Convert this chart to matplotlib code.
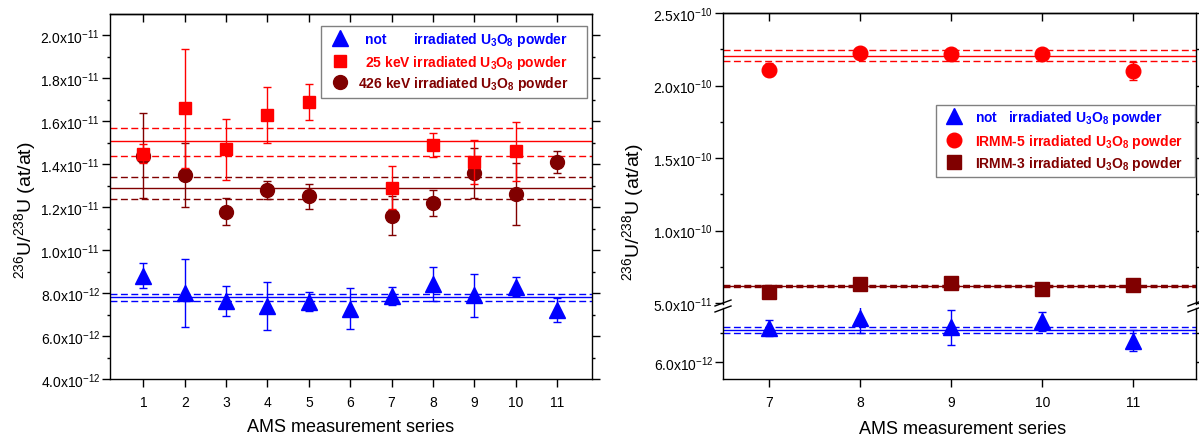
import numpy as np
import matplotlib
matplotlib.use('Agg')
import matplotlib.pyplot as plt
from matplotlib.ticker import FixedLocator, FuncFormatter, NullFormatter
from matplotlib.lines import Line2D
from matplotlib.patches import Rectangle

plt.rcParams['font.family'] = ['Liberation Sans', 'DejaVu Sans']
plt.rcParams['mathtext.fontset'] = 'custom'
plt.rcParams['mathtext.rm'] = 'Liberation Sans'
plt.rcParams['mathtext.it'] = 'Liberation Sans:italic'
plt.rcParams['mathtext.bf'] = 'Liberation Sans:bold'

BLUE = '#0000FF'
RED = '#FF0000'
WINE = '#800000'

# left panel: measurement series 1-11
series_not = [1, 2, 3, 4, 5, 6, 7, 8, 9, 10, 11]
ratio_not = np.array([8.8, 8.0, 7.65, 7.42, 7.6, 7.28, 7.85, 8.42, 7.9, 8.3, 7.2]) * 1e-12
err_not = np.array([0.58, 1.6, 0.7, 1.12, 0.43, 0.97, 0.42, 0.8, 1.0, 0.45, 0.55]) * 1e-12

series_25kev = [1, 2, 3, 4, 5, 7, 8, 9, 10]
ratio_25kev = np.array([14.5, 16.6, 14.7, 16.3, 16.9, 12.9, 14.9, 14.1, 14.6]) * 1e-12
err_25kev = np.array([0.43, 2.78, 1.42, 1.32, 0.86, 1.0, 0.58, 1.03, 1.37]) * 1e-12

series_426kev = [1, 2, 3, 4, 5, 7, 8, 9, 10, 11]
ratio_426kev = np.array([14.4, 13.5, 11.8, 12.8, 12.5, 11.6, 12.2, 13.6, 12.6, 14.1]) * 1e-12
err_426kev = np.array([1.97, 1.47, 0.62, 0.43, 0.57, 0.9, 0.6, 1.17, 1.45, 0.5]) * 1e-12

# weighted means with their uncertainty band (mean, low, high)
mean_not_left = [7.8e-12, 7.65e-12, 7.95e-12]
mean_25kev = [1.51e-11, 1.44e-11, 1.57e-11]
mean_426kev = [1.29e-11, 1.24e-11, 1.34e-11]

# right panel: measurement series 7-11
series_right = [7, 8, 9, 10, 11]
ratio_irmm5 = np.array([2.11, 2.227, 2.215, 2.218, 2.10]) * 1e-10
err_irmm5 = np.array([0.045, 0.02, 0.02, 0.02, 0.065]) * 1e-10
ratio_irmm3 = np.array([5.74, 6.31, 6.36, 5.97, 6.26]) * 1e-11
err_irmm3 = np.array([0.2, 0.2, 0.2, 0.2, 0.4]) * 1e-11
ratio_not_right = np.array([7.75, 8.27, 7.78, 8.08, 7.09]) * 1e-12
err_not_right = np.array([0.43, 0.8, 0.89, 0.47, 0.55]) * 1e-12

mean_irmm5 = [2.206e-10, 2.167e-10, 2.247e-10]
mean_irmm3 = [6.15e-11, 6.07e-11, 6.23e-11]
mean_not_right = [7.65e-12, 7.5e-12, 7.8e-12]

# axis ticks
yticks_left = np.arange(4, 21, 2) * 1e-12
yminor_left = np.arange(5, 21, 2) * 1e-12
yticks_up = np.array([0.5, 1.0, 1.5, 2.0, 2.5]) * 1e-10
yminor_up = np.array([0.75, 1.25, 1.75, 2.25]) * 1e-10
yticks_lo = [6e-12]
yminor_lo = [7.5e-12]

W, H = 1199, 439


def fx(x):
    return x / W


def fy(y):
    return 1 - y / H


def add_px_axes(fig, x0, y0, x1, y1):
    return fig.add_axes([fx(x0), fy(y1), (x1 - x0) / W, (y1 - y0) / H])


def sci_label(v, pos):
    if v <= 0:
        return ''
    e = int(np.floor(np.log10(v) + 1e-9))
    m = v / 10 ** e
    return f'{m:.1f}x10$^{{{e}}}$'


def style_axis(ax, xticks, yticks, yminor, top=True, bottom=True):
    ax.tick_params(axis='both', which='both', direction='out', width=1, labelsize=10,
                   left=True, right=True, top=False, bottom=bottom, labelbottom=bottom)
    ax.tick_params(which='major', length=5.5)
    ax.tick_params(which='minor', length=2.5)
    ax.tick_params(axis='y', pad=1.5)
    ax.tick_params(axis='x', pad=6)
    ax.xaxis.set_major_locator(FixedLocator(xticks))
    ax.yaxis.set_major_locator(FixedLocator(yticks))
    ax.yaxis.set_minor_locator(FixedLocator(yminor))
    ax.yaxis.set_major_formatter(FuncFormatter(sci_label))
    for s in ax.spines.values():
        s.set_linewidth(1.0)
    if top:
        sec = ax.secondary_xaxis('top')
        sec.xaxis.set_major_locator(FixedLocator(xticks))
        sec.xaxis.set_major_formatter(NullFormatter())
        sec.tick_params(direction='in', length=5.5, width=1)
        sec.spines['top'].set_linewidth(1.0)


def mean_lines(ax, mean, color):
    ax.axhline(mean[0], color=color, lw=1.0, zorder=1)
    for v in mean[1:]:
        ax.axhline(v, color=color, lw=1.0, dashes=(5, 2.5), zorder=1)


def points(ax, x, y, err, marker, ms, color, z):
    ax.errorbar(x, y, yerr=err, fmt=marker, ms=ms, color=color, mec=color,
                elinewidth=1.0, capsize=2.9, capthick=1.0, zorder=z)


def legend_rows(fig, box, rows):
    x0, y0, x1, y1 = box
    fig.add_artist(Rectangle((fx(x0), fy(y1)), (x1 - x0) / W, (y1 - y0) / H,
                             transform=fig.transFigure, fill=False, ec='#808080', lw=1.0))
    for mx, my, marker, ms, color, texts in rows:
        fig.add_artist(Line2D([fx(mx)], [fy(my)], transform=fig.transFigure, ls='none',
                              marker=marker, ms=ms, color=color))
        for tx, ha, label in texts:
            fig.text(fx(tx), fy(my + 5), label, color=color, fontsize=10, fontweight='bold',
                     ha=ha, va='baseline')


fig = plt.figure(figsize=(W / 100, H / 100), dpi=100)
U3O8 = r'U$_\mathbf{3}$O$_\mathbf{8}$'

# ---- left panel
ax1 = add_px_axes(fig, 110, 15, 592, 380)
mean_lines(ax1, mean_not_left, BLUE)
mean_lines(ax1, mean_426kev, WINE)
mean_lines(ax1, mean_25kev, RED)
points(ax1, series_not, ratio_not, err_not, '^', 12, BLUE, 3)
points(ax1, series_426kev, ratio_426kev, err_426kev, 'o', 10, WINE, 4)
points(ax1, series_25kev, ratio_25kev, err_25kev, 's', 8.8, RED, 5)
ax1.set_xlim(0.19, 11.85)
ax1.set_ylim(3.999e-12, 2.1e-11)
style_axis(ax1, series_not, yticks_left, yminor_left)

legend_rows(fig, (321, 27, 587, 99), [
    (340, 39.3, '^', 12, BLUE, [(365, 'left', 'not'), (568, 'right', 'irradiated ' + U3O8 + ' powder')]),
    (340, 61.7, 's', 8.8, RED, [(568, 'right', '25 keV irradiated ' + U3O8 + ' powder')]),
    (340, 83.3, 'o', 10, WINE, [(568, 'right', '426 keV irradiated ' + U3O8 + ' powder')]),
])

fig.text(fx(25), fy(210), r'$^{236}$U/$^{238}$U (at/at)', rotation=90, fontsize=14,
         ha='center', va='center')
fig.text(fx(351), fy(428), 'AMS measurement series', fontsize=13, ha='center', va='center')

# ---- right panel with broken y axis
ax_up = add_px_axes(fig, 723, 14, 1196, 305)
ax_lo = add_px_axes(fig, 723, 309, 1196, 380)

mean_lines(ax_up, mean_irmm5, RED)
mean_lines(ax_up, mean_irmm3, WINE)
points(ax_up, series_right, ratio_irmm5, err_irmm5, 'o', 10.5, RED, 4)
points(ax_up, series_right, ratio_irmm3, err_irmm3, 's', 9.6, WINE, 4)
mean_lines(ax_lo, mean_not_right, BLUE)
points(ax_lo, series_right, ratio_not_right, err_not_right, '^', 11.5, BLUE, 4)

for a in (ax_up, ax_lo):
    a.set_xlim(6.49, 11.69)
ax_up.set_ylim(4.93e-11, 2.5005e-10)
ax_lo.set_ylim(5.13e-12, 8.77e-12)

style_axis(ax_up, series_right, yticks_up, yminor_up, top=True, bottom=False)
style_axis(ax_lo, series_right, yticks_lo, yminor_lo, top=False, bottom=True)
ax_up.spines['bottom'].set_visible(False)
ax_lo.spines['top'].set_visible(False)

# break marks on both vertical spines
for bx in (723, 1196):
    for by in (304, 310):
        fig.add_artist(Line2D([fx(bx - 8), fx(bx + 8)], [fy(by + 3), fy(by - 3)],
                              transform=fig.transFigure, color='black', lw=1.0))

legend_rows(fig, (936, 106, 1195, 178), [
    (954, 117.3, '^', 12, BLUE, [(975, 'left', 'not   irradiated ' + U3O8 + ' powder')]),
    (954, 140.7, 'o', 10.5, RED, [(975, 'left', 'IRMM-5 irradiated ' + U3O8 + ' powder')]),
    (954, 163.3, 's', 9.6, WINE, [(975, 'left', 'IRMM-3 irradiated ' + U3O8 + ' powder')]),
])

fig.text(fx(633), fy(212), r'$^{236}$U/$^{238}$U (at/at)', rotation=90, fontsize=14,
         ha='center', va='center')
fig.text(fx(963), fy(430), 'AMS measurement series', fontsize=13, ha='center', va='center')

fig.savefig('out.png', dpi=100)
